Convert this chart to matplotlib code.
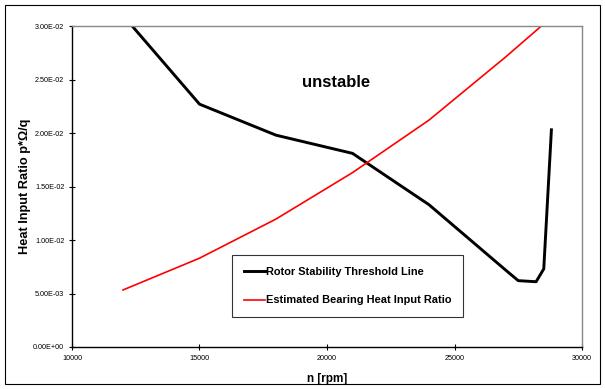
import matplotlib
matplotlib.use("Agg")
import matplotlib.pyplot as plt
from matplotlib.patches import Rectangle
from matplotlib.ticker import FormatStrFormatter

plt.rcParams['font.family'] = ['Liberation Sans', 'DejaVu Sans']

# rotor stability threshold (black)
rpm_rotor = [12000, 15000, 18000, 21000, 24000, 27000, 27500, 28200, 28500, 28800]
ratio_rotor = [0.0310, 0.0227, 0.0198, 0.0181, 0.0133, 0.0072, 0.0062, 0.0061, 0.0073, 0.0203]

# estimated bearing heat input ratio (red)
rpm_heat = [12000, 15000, 18000, 21000, 24000, 27000, 30000]
ratio_heat = [0.00533, 0.00830, 0.01196, 0.01630, 0.02121, 0.02710, 0.03330]

xticks = [10000, 15000, 20000, 25000, 30000]
yticks = [0.0, 0.005, 0.010, 0.015, 0.020, 0.025, 0.030]

fig = plt.figure(figsize=(6.05, 3.89), dpi=100)
ax = fig.add_axes([0.119, 0.108, 0.843, 0.825])

ax.plot(rpm_rotor, ratio_rotor, color='black', lw=2.1,
        label='Rotor Stability Threshold Line')
ax.plot(rpm_heat, ratio_heat, color='#ff0000', lw=1.2,
        label='Estimated Bearing Heat Input Ratio')

ax.set_xlim(10000, 30000)
ax.set_ylim(0, 0.03)
ax.set_xticks(xticks)
ax.set_yticks(yticks)
ax.yaxis.set_major_formatter(FormatStrFormatter('%.2E'))
ax.tick_params(direction='inout', length=5, width=0.8, labelsize=5.2, pad=3)

for s in ['left', 'bottom']:
    ax.spines[s].set_color('black')
    ax.spines[s].set_linewidth(1.0)
for s in ['top', 'right']:
    ax.spines[s].set_color('#888888')
    ax.spines[s].set_linewidth(1.0)

ax.set_xlabel('n [rpm]', fontsize=8.5, fontweight='bold', labelpad=8)
ax.set_ylabel('Heat Input Ratio p*Ω/q', fontsize=9.2, fontweight='bold', labelpad=1.5)

ax.text(20350, 0.0247, 'unstable', fontsize=12, fontweight='bold',
        ha='center', va='center')

leg = ax.legend(loc='upper left', bbox_to_anchor=(0.314, 0.286),
                prop={'weight': 'bold', 'size': 7.9}, frameon=True, fancybox=False,
                edgecolor='black', handlelength=1.9, handletextpad=0.1,
                labelspacing=1.7, borderpad=1.05, borderaxespad=0)
leg.get_frame().set_linewidth(0.8)

fig.patches.append(Rectangle((5 / 605, 5 / 389), 595 / 605, 379 / 389,
                             transform=fig.transFigure, fill=False,
                             edgecolor='black', lw=0.8))

fig.savefig('out.png', dpi=100)
